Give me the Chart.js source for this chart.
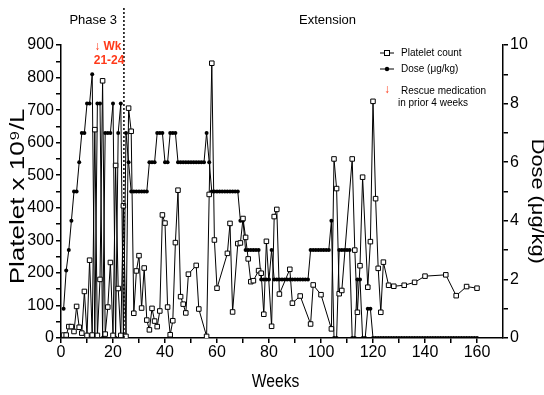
<!DOCTYPE html>
<html><head><meta charset="utf-8">
<script src="https://cdn.jsdelivr.net/npm/chart.js@4.4.0/dist/chart.umd.min.js"></script>
<style>html,body{margin:0;padding:0;background:#fff}#wrap{width:544px;height:395px}</style>
</head><body><div id="wrap"><canvas id="c" width="544" height="395"></canvas></div>
<script>
// ---- data ----
const plateletWeeks = [1,2,3,4,5,6,7,8,9,10,11,12,13,14,15,16,17,18,19,20,21,22,23,24,25,26,27,28,29,30,31,32,33,34,35,36,37,38,39,40,41,42,43,44,45,46,47,48,49,52,53,56,57,58,59,60,64,65,66,68,69,70,71,72,73,74,76,77,78,79,81,82,83,84,88,89,92,96,97,100,104,105,106,107,108,112,113,114,115,116,118,119,120,121,122,123,124,126,128,132,136,140,148,152,156,160];
const plateletValues = [9,9,35,35,20,97,33,15,143,8,239,9,640,8,180,790,12,95,232,8,530,152,8,406,5,706,635,76,206,253,92,215,55,25,91,52,35,83,378,353,95,10,53,293,454,127,104,77,196,223,89,5,441,844,301,153,260,352,80,290,292,367,309,243,173,176,207,199,73,297,36,373,395,135,211,107,129,43,163,133,28,550,459,136,146,550,270,79,222,494,156,296,727,428,214,79,233,162,159,162,171,190,194,130,158,153];
const doseWeeks = [1,2,3,4,5,6,7,8,9,10,11,12,13,14,15,16,17,18,19,20,21,22,23,24,25,26,27,28,29,30,31,32,33,34,35,36,37,38,39,40,41,42,43,44,45,46,47,48,49,50,51,52,53,54,55,56,57,58,59,60,61,62,63,64,65,66,67,68,69,70,71,72,73,74,75,76,77,78,79,80,81,82,83,84,85,86,87,88,89,90,91,92,93,94,95,96,97,98,99,100,101,102,103,104,105,106,107,108,109,110,111,112,113,114,115,116,117,118,119,120,121,122,123,124,125,126,127,128,129,130,131,132,133,134,135,136,137,138,139,140,141,142,143,144,145,146,147,148,149,150,151,152,153,154,155,156,157,158,159,160];
const doseValues = [1,2.3,3,4,5,5,6,7,7,8,8,9,
  0,8,8,0,7,7,7,8,0,7,8,0,7,6,
  5,5,5,5,5,5,5,
  6,6,6, 7,7,7, 6,6, 7,7,7,
  6,6,6,6,6,6,6,6,6,6,6,
  7,6,
  5,5,5,5,5,5,5,5,5,5,5,
  4,4, 3,3,3,3,3,3, 2,2,2,2, 3,
  2,2,2,2,2,2,2,2,2,2,2,2,2,2,
  3,3,3,3,3,3,3,3, 4, 0,0, 3,3,3,3,3, 0,0, 2,2, 0,0, 1,1,
  0,0,0,0,0,0,0,0,0,0,0,0,0,0,0,0,0,0,0,0,0,0,0,0,0,0,0,0,0,0,0,0,0,0,0,0,0,0,0,0,0];
const xLabelTicks = [0,20,40,60,80,100,120,140,160];
const yLeftLabelTicks = [0,100,200,300,400,500,600,700,800,900];
const yRightLabelTicks = [0,2,4,6,8,10];
const phaseBoundaryWeek = 24.2;

const FONT = "'Liberation Sans', Arial, Helvetica, sans-serif";

function stretchedText(ctx, text, x, y, angle, sx, font) {
  ctx.save();
  ctx.translate(x, y);
  ctx.rotate(angle);
  ctx.scale(sx, 1);
  ctx.font = font; ctx.textAlign = 'center'; ctx.textBaseline = 'middle'; ctx.fillStyle = '#000';
  ctx.fillText(text, 0, 0);
  ctx.restore();
}

const annot = {
  id: 'annot',
  afterDraw(chart) {
    const ctx = chart.ctx, xs = chart.scales.x, ys = chart.scales.y, a = chart.chartArea;
    ctx.save();
    // dashed phase boundary
    const bx = xs.getPixelForValue(phaseBoundaryWeek);
    ctx.strokeStyle = '#000'; ctx.lineWidth = 1.5; ctx.setLineDash([2,2]);
    ctx.beginPath(); ctx.moveTo(bx, 8); ctx.lineTo(bx, a.bottom); ctx.stroke();
    ctx.setLineDash([]);
    ctx.fillStyle = '#000'; ctx.textBaseline = 'middle'; ctx.textAlign = 'center';
    ctx.font = '13px ' + FONT;
    ctx.fillText('Phase 3', xs.getPixelForValue(12.4), 20);
    ctx.fillText('Extension', xs.getPixelForValue(102.5), 20);
    // axis titles
    stretchedText(ctx, 'Weeks', xs.getPixelForValue(82.5), 382, 0, 0.87, '18px ' + FONT);
    stretchedText(ctx, 'Platelet x 10\u2079/L', 18, ys.getPixelForValue(435), -Math.PI/2, 1.3, '20px ' + FONT);
    stretchedText(ctx, 'Dose (\u03bcg/kg)', 537, ys.getPixelForValue(420), Math.PI/2, 1.21, '18px ' + FONT);
    // red rescue note
    ctx.fillStyle = '#ff3a1a'; ctx.font = 'bold 12px ' + FONT; ctx.textAlign = 'center'; ctx.textBaseline = 'middle';
    ctx.fillText('\u2193 Wk', xs.getPixelForValue(18), a.top + 2);
    ctx.fillText('21-24', xs.getPixelForValue(18.5), a.top + 16);
    // legend
    const lx = a.right - 123;
    ctx.strokeStyle = '#000'; ctx.lineWidth = 1;
    ctx.beginPath(); ctx.moveTo(lx, 53); ctx.lineTo(lx + 14, 53); ctx.stroke();
    ctx.fillStyle = '#fff'; ctx.fillRect(lx + 4.5, 50.5, 5, 5); ctx.strokeRect(lx + 4.5, 50.5, 5, 5);
    ctx.beginPath(); ctx.moveTo(lx, 69); ctx.lineTo(lx + 14, 69); ctx.stroke();
    ctx.fillStyle = '#000'; ctx.beginPath(); ctx.arc(lx + 7, 69, 2.2, 0, Math.PI*2); ctx.fill();
    ctx.fillStyle = '#ff3a1a'; ctx.font = 'bold 12px ' + FONT; ctx.textAlign = 'center';
    ctx.fillText('\u2193', lx + 7, 90);
    ctx.fillStyle = '#000'; ctx.font = '10px ' + FONT; ctx.textAlign = 'left';
    ctx.fillText('Platelet count', lx + 21, 53);
    ctx.fillText('Dose (\u03bcg/kg)', lx + 21, 69);
    ctx.fillText('Rescue medication', lx + 21, 91);
    ctx.fillText('in prior 4 weeks', lx + 18, 103);
    ctx.restore();
  }
};

const tickFont = { family: FONT, size: 16 };

new Chart(document.getElementById('c'), {
  type: 'line',
  data: {
    datasets: [
      {
        label: 'Platelet count',
        data: plateletWeeks.map((w, i) => ({ x: w, y: plateletValues[i] })),
        yAxisID: 'y', order: 0,
        borderColor: '#000', borderWidth: 1, backgroundColor: '#fff',
        pointStyle: 'rect', pointRadius: 3.2, pointBorderWidth: 1,
        pointBackgroundColor: '#fff', pointBorderColor: '#000', tension: 0
      },
      {
        label: 'Dose (\u03bcg/kg)',
        data: doseWeeks.map((w, i) => ({ x: w, y: doseValues[i] })),
        yAxisID: 'y2', order: 1,
        borderColor: '#000', borderWidth: 1, backgroundColor: '#000',
        pointStyle: 'circle', pointRadius: 2, pointBorderWidth: 0,
        pointBackgroundColor: '#000', tension: 0
      }
    ]
  },
  options: {
    responsive: false, animation: false, devicePixelRatio: 1,
    layout: { padding: { top: 45, left: 0, right: 0, bottom: 0 } },
    plugins: { legend: { display: false }, tooltip: { enabled: false } },
    scales: {
      x: {
        type: 'linear', min: 0, max: 170,
        afterFit: s => { s.height = 57; },
        afterBuildTicks: s => { s.ticks = [0,10,20,30,40,50,60,70,80,90,100,110,120,130,140,150,160].map(v => ({ value: v })); },
        ticks: { color: '#000', font: tickFont, padding: 0, maxRotation: 0, autoSkip: false,
          callback: v => xLabelTicks.includes(v) ? String(v) : '' },
        grid: { drawOnChartArea: false, drawTicks: true, tickLength: 5, color: '#000', lineWidth: 1.5 },
        border: { color: '#000', width: 1.5 },
        title: { display: false }
      },
      y: {
        position: 'left', min: 0, max: 900,
        afterFit: s => { s.width = 61; },
        ticks: { stepSize: 50, color: '#000', font: tickFont, padding: 2, autoSkip: false,
          callback: v => yLeftLabelTicks.includes(v) ? String(v) : '' },
        grid: { drawOnChartArea: false, drawTicks: true, tickLength: 5, color: '#000', lineWidth: 1.5 },
        border: { color: '#000', width: 1.5 },
        title: { display: false }
      },
      y2: {
        position: 'right', min: 0, max: 10,
        afterFit: s => { s.width = 41; },
        ticks: { stepSize: 1, color: '#000', font: tickFont, padding: 2, autoSkip: false,
          callback: v => yRightLabelTicks.includes(v) ? String(v) : '' },
        grid: { drawOnChartArea: false, drawTicks: true, tickLength: 5, color: '#000', lineWidth: 1.5 },
        border: { color: '#000', width: 1.5 },
        title: { display: false }
      }
    }
  },
  plugins: [annot]
});
</script></body></html>
